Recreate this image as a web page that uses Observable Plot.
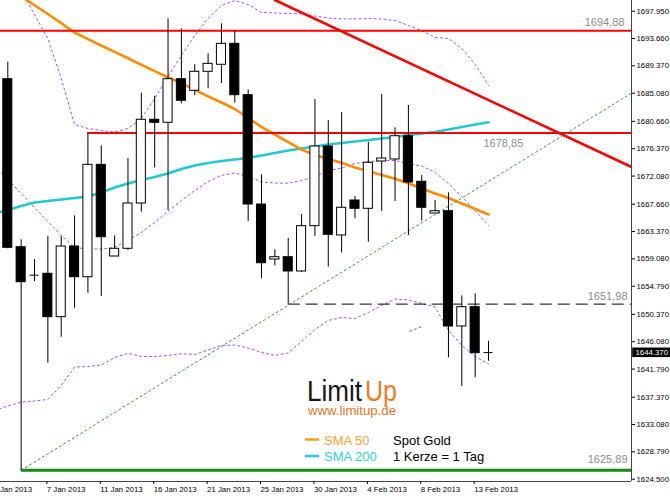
<!DOCTYPE html>
<html><head><meta charset="utf-8">
<script src="https://cdn.jsdelivr.net/npm/d3@7"></script>
<script src="https://cdn.jsdelivr.net/npm/@observablehq/plot@0.6"></script>
<style>
body{margin:0;background:#fff;}
#wrap{position:relative;width:670px;height:496px;overflow:hidden;}
#wrap svg{display:block;}
#overlay{position:absolute;left:0;top:0;pointer-events:none;}
</style></head><body><div id="wrap"></div>
<script>
// ---- data ----
const dates = ["2 Jan","3 Jan","4 Jan","6 Jan","7 Jan","8 Jan","9 Jan","10 Jan","11 Jan","13 Jan","14 Jan","15 Jan","16 Jan","17 Jan","18 Jan","20 Jan","21 Jan","22 Jan","23 Jan","24 Jan","25 Jan","27 Jan","28 Jan","29 Jan","30 Jan","31 Jan","1 Feb","3 Feb","4 Feb","5 Feb","6 Feb","7 Feb","8 Feb","10 Feb","11 Feb","12 Feb","13 Feb","14 Feb"];
// candles from 3 Jan to 14 Feb
const open  = [1687.28,1660.91,1656.52,1656.74,1649.93,1661.02,1656.20,1673.84,1659.45,1660.66,1667.77,1680.91,1680.44,1687.28,1685.46,1688.44,1689.54,1692.83,1684.77,1667.61,1658.98,1659.34,1657.10,1664.21,1676.72,1662.75,1668.24,1666.94,1674.36,1674.68,1678.33,1671.18,1666.20,1666.56,1648.47,1651.50,1644.37];
const high  = [1689.95,1662.07,1658.98,1662.59,1662.59,1665.84,1678.85,1676.83,1662.70,1674.83,1685.08,1684.61,1696.76,1695.19,1689.54,1691.26,1695.97,1694.88,1685.61,1672.27,1660.50,1662.28,1666.04,1684.09,1680.80,1682.05,1668.87,1677.39,1684.88,1679.65,1683.15,1672.16,1668.24,1669.45,1653.28,1653.60,1646.16];
const low   = [1660.66,1625.89,1655.53,1642.71,1646.79,1651.34,1653.69,1653.18,1659.45,1660.39,1666.41,1673.37,1666.67,1683.42,1684.72,1685.77,1686.60,1683.51,1664.95,1655.95,1657.99,1651.98,1656.94,1662.59,1657.77,1660.00,1665.37,1661.70,1666.52,1668.08,1662.75,1664.99,1666.20,1643.55,1639.05,1640.42,1643.02];
const close = [1660.82,1655.42,1656.52,1649.93,1661.02,1656.20,1673.84,1662.48,1660.66,1667.77,1680.91,1680.44,1687.28,1683.89,1688.44,1689.69,1692.83,1684.77,1667.61,1658.40,1659.34,1657.10,1664.21,1676.72,1662.86,1667.10,1666.94,1674.16,1674.83,1678.33,1671.07,1667.10,1666.56,1648.47,1651.50,1644.28,1644.37];
// indicators from 2 Jan to 14 Feb
const sma50  = [1703.08,1701.67,1700.26,1698.88,1697.51,1696.07,1694.61,1693.57,1692.57,1691.56,1690.56,1689.54,1688.55,1687.54,1686.68,1685.61,1684.59,1683.62,1682.60,1681.19,1679.78,1678.60,1677.42,1676.24,1675.38,1674.75,1674.17,1673.42,1672.82,1672.23,1671.65,1670.94,1670.12,1669.34,1668.63,1667.77,1666.91,1666.04];
const sma200 = [1666.20,1666.75,1667.38,1667.93,1668.16,1668.40,1668.63,1668.87,1669.50,1670.28,1670.91,1671.46,1671.93,1672.48,1673.18,1673.73,1674.13,1674.44,1674.68,1674.91,1675.30,1675.70,1676.09,1676.40,1676.72,1677.03,1677.27,1677.50,1677.74,1677.97,1678.21,1678.52,1678.76,1678.99,1679.38,1679.78,1680.17,1680.53];
const bbUpper = [1711.00,1706.69,1701.20,1697.43,1693.67,1687.39,1680.17,1679.54,1679.23,1678.99,1679.54,1681.11,1684.25,1687.70,1691.00,1694.14,1696.81,1698.85,1699.63,1699.00,1697.75,1697.67,1697.59,1697.54,1697.20,1696.88,1696.76,1696.73,1696.80,1696.73,1696.49,1695.71,1694.92,1693.82,1693.67,1692.10,1689.59,1686.29];
const bbMid   = [1673.73,1671.54,1669.34,1667.14,1664.95,1662.75,1660.87,1660.63,1660.63,1660.87,1662.04,1663.22,1664.79,1666.52,1668.24,1669.81,1671.22,1672.17,1672.56,1672.01,1671.15,1670.99,1670.96,1671.38,1672.01,1672.95,1673.34,1674.05,1674.36,1674.52,1674.52,1674.00,1673.66,1672.64,1670.91,1668.87,1666.67,1664.32];
const bbLower = [1635.28,1635.99,1636.62,1636.78,1637.01,1639.21,1642.11,1642.19,1642.43,1643.60,1644.28,1643.76,1643.76,1643.92,1644.18,1644.07,1644.78,1645.49,1645.56,1645.09,1644.39,1643.92,1644.31,1646.11,1648.00,1649.41,1649.88,1649.72,1650.66,1651.76,1652.78,1652.63,1652.08,1651.53,1647.84,1645.49,1643.76,1642.61];
// drawn objects
const levels      = [1694.88, 1678.85, 1651.98, 1625.89];
const levelStarts = [null, "10 Jan", "28 Jan", "4 Jan"];
const redTrendK = [21, 47.71], redTrendP = [1699.70, 1673.50];
const greenTrendK = [2, 47.71], greenTrendP = [1625.89, 1685.10];
const greenStubK = [31.1, 32.03], greenStubP = [1647.73, 1648.47];
const yTicks = [1697.95,1693.66,1689.37,1685.08,1680.66,1676.37,1672.08,1667.66,1663.37,1659.08,1654.79,1650.37,1646.08,1641.79,1637.37,1633.08,1628.79,1624.50];
const xTickDates = ["2 Jan","7 Jan","11 Jan","16 Jan","21 Jan","25 Jan","30 Jan","4 Feb","8 Feb","13 Feb"];
const lastPrice = 1644.37;
const seriesNames = ["SMA 50","SMA 200"];
const infoLines = ["Spot Gold","1 Kerze = 1 Tag"];

// ---- build ----
const xDomain = [0.4533, 47.708];
const yDomain = [1624.14, 1699.63];
const candles = open.map((o,i)=>({k:i+1, open:o, high:high[i], low:low[i], close:close[i]}));
const bodies = candles.filter(d=>d.open!==d.close);
const dojis = candles.filter(d=>d.open===d.close);
const ind = dates.map((d,k)=>({k, sma50:sma50[k], sma200:sma200[k], up:bbUpper[k], mid:bbMid[k], lo:bbLower[k]}));
const lv = levels.map((p,i)=>({p, k1: levelStarts[i]==null ? xDomain[0] : dates.indexOf(levelStarts[i]), k2: xDomain[1]}));
const fmtLv = p => d3.format(".2f")(p).replace(".", ",");
const seg = (K,P)=>[{k:K[0],p:P[0]},{k:K[1],p:P[1]}];
const half = 0.34;
const purple = "#a64dff";

const chart = Plot.plot({
  width: 670, height: 496,
  marginTop: 0, marginBottom: 15, marginLeft: 0, marginRight: 39,
  x: {type: "linear", domain: xDomain, axis: null},
  y: {type: "linear", domain: yDomain, axis: null},
  style: {fontFamily: "'Liberation Sans', Arial, sans-serif", background: "#fff", overflow: "visible"},
  marks: [
    Plot.line(ind, {x:"k", y:"up", stroke: purple, strokeWidth: 1, strokeDasharray: "2,3", clip: true}),
    Plot.line(ind, {x:"k", y:"mid", stroke: purple, strokeWidth: 1, strokeDasharray: "2,3", clip: true}),
    Plot.line(ind, {x:"k", y:"lo", stroke: purple, strokeWidth: 1, strokeDasharray: "2,3", clip: true}),
    Plot.line(ind, {x:"k", y:"sma200", stroke: "#22c8d2", strokeWidth: 2.6, clip: true}),
    Plot.line(ind, {x:"k", y:"sma50", stroke: "#ff8c00", strokeWidth: 2.6, clip: true}),
    // level lines
    Plot.ruleY([lv[0], lv[1]], {y:"p", x1:"k1", x2:"k2", stroke:"#ff0000", strokeWidth: 2}),
    Plot.ruleY([lv[2]], {y:"p", x1:"k1", x2:"k2", stroke:"#000", strokeWidth: 1, strokeDasharray:"12,6"}),
    Plot.ruleY([lv[3]], {y:"p", x1:"k1", x2:"k2", stroke:"#138a13", strokeWidth: 3}),
    // trendlines
    Plot.line(seg(redTrendK, redTrendP), {x:"k", y:"p", stroke:"#ff0000", strokeWidth: 2.6, clip: true}),
    Plot.line(seg(greenTrendK, greenTrendP), {x:"k", y:"p", stroke:"#3a9a3a", strokeWidth: 1, strokeDasharray:"2,3", clip: true}),
    Plot.line(seg(greenStubK, greenStubP), {x:"k", y:"p", stroke:"#3a9a3a", strokeWidth: 1, strokeDasharray:"2,3", clip: true}),
    // level labels
    Plot.text([lv[0]], {x:"k2", y:"p", text: d=>fmtLv(d.p), textAnchor:"end", dx:-7, dy:-8, fill:"#8c8c8c", fontSize: 11}),
    Plot.text([lv[1]], {x:"k2", y:"p", text: d=>fmtLv(d.p), textAnchor:"start", dx:-148, dy:11, fill:"#8c8c8c", fontSize: 11}),
    Plot.text([lv[2]], {x:"k2", y:"p", text: d=>fmtLv(d.p), textAnchor:"end", dx:-4, dy:-8, fill:"#8c8c8c", fontSize: 11}),
    Plot.text([lv[3]], {x:"k2", y:"p", text: d=>fmtLv(d.p), textAnchor:"end", dx:-4, dy:-11, fill:"#8c8c8c", fontSize: 11}),
    // candles
    Plot.ruleX(candles, {x:"k", y1:"low", y2:"high", stroke:"#000", strokeWidth: 1}),
    Plot.rect(bodies, {x1: d=>d.k-half, x2: d=>d.k+half, y1:"open", y2:"close", fill: d=>d.close<d.open ? "#000" : "#fff", stroke:"#000", strokeWidth: 1}),
    Plot.ruleY(dojis, {y:"close", x1: d=>d.k-half, x2: d=>d.k+half, stroke:"#000", strokeWidth: 1}),
    // frame
    Plot.ruleX([xDomain[1]], {stroke:"#444", strokeWidth: 1}),
    Plot.ruleY([yDomain[0]], {stroke:"#444", strokeWidth: 1}),
    Plot.axisY(yTicks, {anchor:"right", tickSize: 3, tickPadding: 2, tickFormat: ".3f", fontSize: 7.8, fill:"#000"}),
    Plot.axisX(xTickDates.map(d=>dates.indexOf(d)), {anchor:"bottom", tickSize: 3, tickPadding: 2, tickFormat: k=>dates[k]+" 2013", textAnchor:"start", dx:-1, fontSize: 7.8, fill:"#000"}),
    // current price tag
    Plot.rect([lastPrice], {x1: xDomain[1]+0.09, x2: xDomain[1]+2.95, y1: d=>d-0.78, y2: d=>d+0.72, fill:"#000"}),
    Plot.text([lastPrice], {x: xDomain[1]+0.3, y: d=>d, text: d=>d3.format(".3f")(d), textAnchor:"start", fill:"#fff", fontSize: 7.8})
  ]
});
document.getElementById("wrap").appendChild(chart);

// overlay: logo and legend
const ov = d3.select("#wrap").append("svg").attr("id","overlay").attr("width",670).attr("height",496)
  .style("font-family","'Liberation Sans', Arial, sans-serif");
ov.append("text").attr("x",307).attr("y",401).attr("font-size",29).attr("font-weight",300)
  .attr("fill","#151515").attr("textLength",55).attr("lengthAdjust","spacingAndGlyphs").text("Limit");
ov.append("text").attr("x",365).attr("y",401).attr("font-size",29).attr("font-weight",300)
  .attr("fill","#f07a1a").attr("textLength",32).attr("lengthAdjust","spacingAndGlyphs").text("Up");
ov.append("text").attr("x",308).attr("y",415).attr("font-size",12.5)
  .attr("fill","#e8741c").attr("textLength",88).attr("lengthAdjust","spacingAndGlyphs").text("www.limitup.de");
const legColors = ["#ff9a1a","#22ccd8"];
const legText = ["#ffa030","#2cd2dc"];
seriesNames.forEach((n,i)=>{
  const y = 439.5 + i*16.5;
  ov.append("line").attr("x1",305).attr("x2",319).attr("y1",y).attr("y2",y).attr("stroke",legColors[i]).attr("stroke-width",2.5);
  ov.append("text").attr("x",324).attr("y",y+5.3).attr("font-size",13).attr("fill",legText[i]).text(n);
});
infoLines.forEach((t,i)=>{
  ov.append("text").attr("x",393).attr("y",444.8+i*16.5).attr("font-size",13).attr("fill","#000").text(t);
});
</script></body></html>
